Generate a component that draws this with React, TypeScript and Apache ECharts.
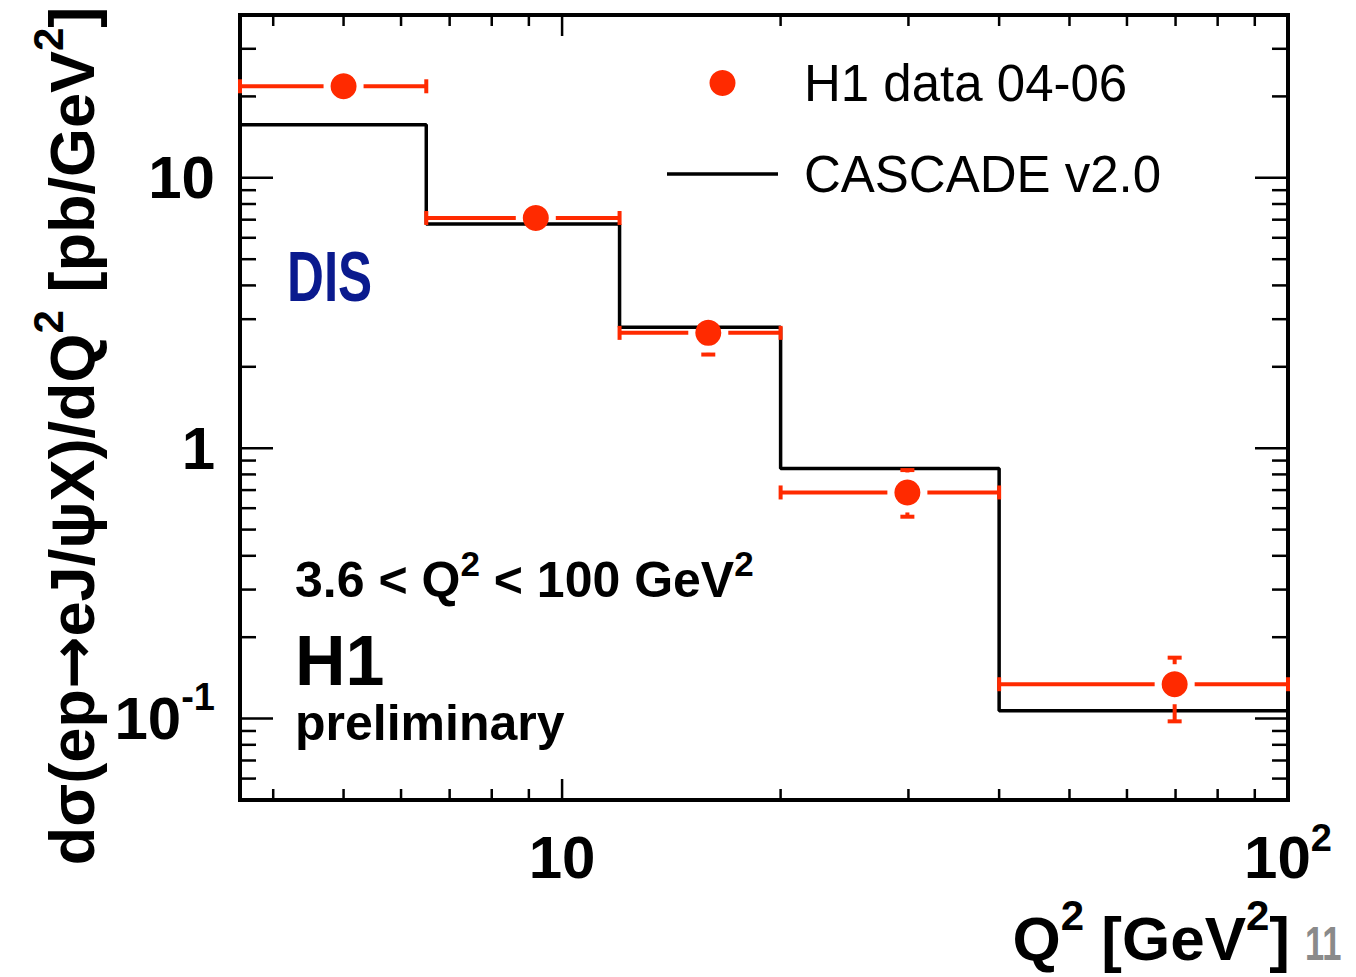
import React, { useEffect, useRef } from 'react';
import * as echarts from 'echarts';

// Bin edges in Q^2 [GeV^2]
const binEdges = [3.6, 6.5, 12, 20, 40, 100];
// H1 data 04-06 points
const dataX = [5.0, 9.2, 15.9, 29.9, 69.8];
const dataY = [21.8, 7.1, 2.67, 0.686, 0.134];
const dataYLow = [20.0, 6.7, 2.22, 0.558, 0.0977];
const dataYHigh = [23.5, 7.5, 3.0, 0.83, 0.168];
// CASCADE v2.0 prediction per bin
const cascadeY = [15.7, 6.75, 2.8, 0.842, 0.107];

// Axis tick positions
const xTicks = [4, 5, 6, 7, 8, 9, 10, 20, 30, 40, 50, 60, 70, 80, 90, 100];
const xMajor = [10, 100];
const yTicks = [
  0.05, 0.06, 0.07, 0.08, 0.09, 0.1, 0.2, 0.3, 0.4, 0.5, 0.6, 0.7, 0.8, 0.9,
  1, 2, 3, 4, 5, 6, 7, 8, 9, 10, 20, 30, 40,
];
const yMajor = [0.1, 1, 10];

const FONT = '"Liberation Sans", Arial, Helvetica, sans-serif';
const RED = '#ff2a00';

export default function App() {
  const ref = useRef<HTMLDivElement>(null);

  useEffect(() => {
    const chart = echarts.init(ref.current as HTMLDivElement, null, { renderer: 'svg' });

    const cascadePts: number[][] = [];
    cascadeY.forEach((v, i) => {
      cascadePts.push([binEdges[i], v], [binEdges[i + 1], v]);
    });
    const errData = dataX.map((x, i) => [x, dataY[i], binEdges[i], binEdges[i + 1], dataYLow[i], dataYHigh[i]]);
    const pts = dataX.map((x, i) => [x, dataY[i]]);
    const xTickData = xTicks.map((v) => [v, 1, xMajor.indexOf(v) >= 0 ? 1 : 0]);
    const yTickData = yTicks.map((v) => [10, v, yMajor.indexOf(v) >= 0 ? 1 : 0]);

    const isPow = (v: number) => {
      const l = Math.log10(v);
      const r = Math.round(l);
      return Math.abs(l - r) < 1e-6 ? r : null;
    };

    const supStyle = (size: number, h: number) => ({
      fontSize: size,
      height: h,
      verticalAlign: 'top',
      fontWeight: 'bold',
      fontFamily: FONT,
      color: '#000',
    });
    const supFill = (size: number, h: number) => ({
      fontSize: size,
      height: h,
      verticalAlign: 'top',
      fontWeight: 'bold',
      fontFamily: FONT,
      fill: '#000',
    });

    const tickStyle = { stroke: '#000', lineWidth: 2.5 };

    const option: any = {
      animation: false,
      backgroundColor: '#fff',
      grid: {
        left: 240,
        right: 68,
        top: 15,
        bottom: 177,
        show: true,
        borderColor: '#000',
        borderWidth: 4,
        backgroundColor: 'transparent',
        containLabel: false,
        outerBoundsMode: 'none',
      },
      legend: {
        orient: 'vertical',
        left: 662,
        top: 52,
        itemWidth: 111,
        itemHeight: 26,
        itemGap: 39,
        selectedMode: false,
        data: [
          { name: 'H1 data 04-06', icon: 'circle' },
          { name: 'CASCADE v2.0', icon: 'path://M0,0H111V3.6H0Z' },
        ],
        textStyle: {
          fontSize: 51,
          lineHeight: 52,
          fontFamily: FONT,
          color: '#000',
          padding: [0, 0, 0, 21],
        },
      },
      xAxis: {
        type: 'log',
        logBase: 10,
        min: 3.6,
        max: 100,
        axisLine: { show: false },
        axisTick: { show: false },
        splitLine: { show: false },
        axisLabel: {
          margin: 27,
          fontSize: 60,
          lineHeight: 60,
          fontWeight: 'bold',
          fontFamily: FONT,
          color: '#000',
          formatter: (v: number) => {
            const r = isPow(v);
            if (r === 1) return '10';
            if (r === 2) return '10{sup|2}';
            return '';
          },
          rich: { sup: supStyle(38, 22) },
        },
      },
      yAxis: {
        type: 'log',
        logBase: 10,
        min: 0.05,
        max: 40,
        axisLine: { show: false },
        axisTick: { show: false },
        splitLine: { show: false },
        axisLabel: {
          margin: 25,
          fontSize: 60,
          lineHeight: 60,
          fontWeight: 'bold',
          fontFamily: FONT,
          color: '#000',
          formatter: (v: number) => {
            const r = isPow(v);
            if (r === -1) return '10{sup|-1}';
            if (r === 0) return '1';
            if (r === 1) return '10';
            return '';
          },
          rich: { sup: supStyle(38, 16) },
        },
        name: 'd\u03c3(ep{arr|\u2192}eJ/\u03c8X)/dQ{sup|2} [pb/GeV{sup|2}]',
        nameLocation: 'middle',
        nameRotate: 90,
        nameGap: 131,
        nameTextStyle: {
          fontSize: 63,
          lineHeight: 63,
          fontWeight: 'bold',
          fontFamily: FONT,
          color: '#000',
          padding: [0, 57, 0, 0],
          rich: {
            sup: supStyle(42, 16),
            arr: { fontSize: 63, fontFamily: '"DejaVu Sans", sans-serif', color: '#000' },
          },
        },
      },
      graphic: [
        {
          type: 'text',
          x: 287,
          y: 277,
          scaleX: 0.73,
          style: {
            text: 'DIS',
            fontSize: 70,
            fontWeight: 'bold',
            fontFamily: FONT,
            fill: '#0a1a8e',
            verticalAlign: 'middle',
            align: 'left',
          },
        },
        {
          type: 'text',
          x: 295,
          y: 580,
          style: {
            text: '3.6 < Q{sup|2} < 100 GeV{sup|2}',
            fontSize: 50,
            lineHeight: 50,
            fontWeight: 'bold',
            fontFamily: FONT,
            fill: '#000',
            verticalAlign: 'middle',
            align: 'left',
            rich: { sup: supFill(35, 16) },
          },
        },
        {
          type: 'text',
          x: 295,
          y: 661,
          style: {
            text: 'H1',
            fontSize: 70,
            lineHeight: 50,
            fontWeight: 'bold',
            fontFamily: FONT,
            fill: '#000',
            verticalAlign: 'middle',
            align: 'left',
          },
        },
        {
          type: 'text',
          x: 295,
          y: 723,
          style: {
            text: 'preliminary',
            fontSize: 50,
            lineHeight: 42,
            fontWeight: 'bold',
            fontFamily: FONT,
            fill: '#000',
            verticalAlign: 'middle',
            align: 'left',
          },
        },
        {
          type: 'text',
          x: 1290,
          y: 938,
          style: {
            text: 'Q{sup|2} [GeV{sup|2}]',
            fontSize: 62,
            lineHeight: 62,
            fontWeight: 'bold',
            fontFamily: FONT,
            fill: '#000',
            verticalAlign: 'middle',
            align: 'right',
            rich: { sup: supFill(42, 16) },
          },
        },
        {
          type: 'text',
          x: 1305,
          y: 943,
          scaleX: 0.72,
          style: {
            text: '11',
            fontSize: 48,
            fontWeight: 'bold',
            fontFamily: FONT,
            fill: '#8a8a8a',
            verticalAlign: 'middle',
            align: 'left',
          },
        },
      ],
      series: [
        {
          name: 'xticks',
          type: 'custom',
          silent: true,
          encode: { x: 0, y: 1 },
          data: xTickData,
          z: 1,
          renderItem: (params: any, api: any) => {
            const x = api.coord([api.value(0), 1])[0];
            const cs = params.coordSys;
            const len = api.value(2) ? 21 : 11;
            const b = cs.y + cs.height;
            return {
              type: 'group',
              children: [
                { type: 'line', shape: { x1: x, y1: b, x2: x, y2: b - len }, style: tickStyle },
                { type: 'line', shape: { x1: x, y1: cs.y, x2: x, y2: cs.y + len }, style: tickStyle },
              ],
            };
          },
        },
        {
          name: 'yticks',
          type: 'custom',
          silent: true,
          encode: { x: 0, y: 1 },
          data: yTickData,
          z: 1,
          renderItem: (params: any, api: any) => {
            const y = api.coord([10, api.value(1)])[1];
            const cs = params.coordSys;
            const len = api.value(2) ? 33 : 16;
            const r = cs.x + cs.width;
            return {
              type: 'group',
              children: [
                { type: 'line', shape: { x1: cs.x, y1: y, x2: cs.x + len, y2: y }, style: tickStyle },
                { type: 'line', shape: { x1: r, y1: y, x2: r - len, y2: y }, style: tickStyle },
              ],
            };
          },
        },
        {
          name: 'CASCADE v2.0',
          type: 'line',
          data: cascadePts,
          symbol: 'none',
          silent: true,
          z: 3,
          lineStyle: { color: '#000', width: 3.5 },
          itemStyle: { color: '#000' },
        },
        {
          name: 'errors',
          type: 'custom',
          silent: true,
          encode: { x: 0, y: 1 },
          data: errData,
          z: 4,
          renderItem: (params: any, api: any) => {
            const xv = api.value(0);
            const yv = api.value(1);
            const [cx, cy] = api.coord([xv, yv]);
            const xl = api.coord([api.value(2), yv])[0];
            const xh = api.coord([api.value(3), yv])[0];
            const yl = api.coord([xv, api.value(4)])[1];
            const yh = api.coord([xv, api.value(5)])[1];
            const gap = 20;
            const cap = 7;
            const st = { stroke: RED, lineWidth: 4 };
            const ch: any[] = [];
            if (cx - gap > xl) {
              ch.push({ type: 'line', shape: { x1: xl, y1: cy, x2: cx - gap, y2: cy }, style: st });
              ch.push({ type: 'line', shape: { x1: xl, y1: cy - cap, x2: xl, y2: cy + cap }, style: st });
            }
            if (xh > cx + gap) {
              ch.push({ type: 'line', shape: { x1: cx + gap, y1: cy, x2: xh, y2: cy }, style: st });
              ch.push({ type: 'line', shape: { x1: xh, y1: cy - cap, x2: xh, y2: cy + cap }, style: st });
            }
            if (yl > cy + gap) {
              ch.push({ type: 'line', shape: { x1: cx, y1: cy + gap, x2: cx, y2: yl }, style: st });
              ch.push({ type: 'line', shape: { x1: cx - cap, y1: yl, x2: cx + cap, y2: yl }, style: st });
            }
            if (yh < cy - gap) {
              ch.push({ type: 'line', shape: { x1: cx, y1: yh, x2: cx, y2: cy - gap }, style: st });
              ch.push({ type: 'line', shape: { x1: cx - cap, y1: yh, x2: cx + cap, y2: yh }, style: st });
            }
            return { type: 'group', children: ch };
          },
        },
        {
          name: 'H1 data 04-06',
          type: 'scatter',
          data: pts,
          symbol: 'circle',
          symbolSize: 26,
          silent: true,
          z: 5,
          itemStyle: { color: RED, opacity: 1 },
        },
      ],
    };

    chart.setOption(option);
    return () => {
      chart.dispose();
    };
  }, []);

  return (
    <div
      ref={ref}
      style={{ position: 'absolute', left: 0, top: 0, width: 1356, height: 977, background: '#fff' }}
    />
  );
}
